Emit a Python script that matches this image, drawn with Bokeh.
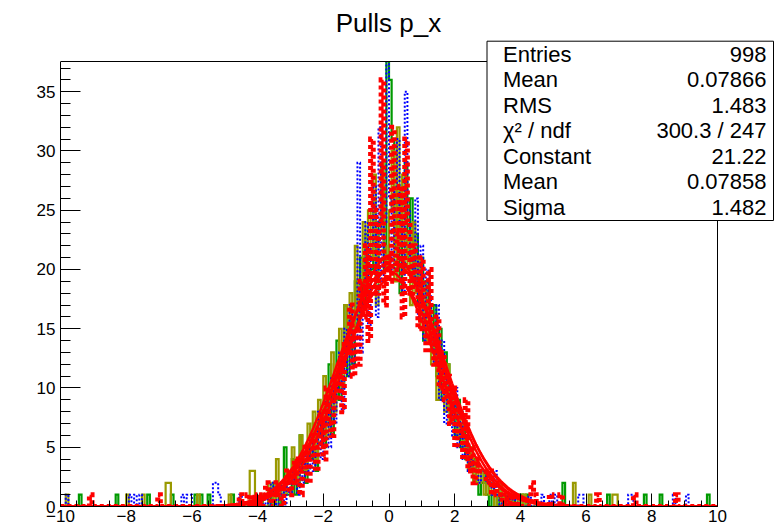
import numpy as np
from bokeh.plotting import figure
from bokeh.models import Range1d, SingleIntervalTicker, Label
from bokeh.embed import file_html
from bokeh.resources import INLINE

# ---------------- data ----------------
TITLE = "Pulls p_x"
X_MIN, X_MAX, N_BINS = -10.0, 10.0, 250
CORE_START = -4.0   # first bin of the core arrays below (100 bins of 0.08)

green_core = [0, 1, 0, 0, 1, 0, 2, 1, 0, 1,
              5, 1, 1, 4, 1, 2, 6, 3, 2, 5,
              4, 7, 3, 6, 8, 5, 7, 12, 6, 9,
              14, 9, 13, 17, 11, 16, 12, 19, 15, 21,
              17, 23, 18, 20, 26, 19, 24, 27, 20, 38,
              36, 31, 22, 27, 18, 24, 29, 21, 26, 19,
              23, 17, 21, 14, 19, 16, 13, 17, 11, 15,
              9, 13, 12, 8, 10, 6, 9, 5, 7, 4,
              5, 3, 4, 2, 1, 2, 3, 1, 0, 1,
              1, 0, 2, 0, 1, 0, 0, 1, 0, 0]
olive_core = [0, 1, 0, 0, 2, 1, 0, 4, 1, 2,
              1, 3, 2, 5, 3, 2, 6, 4, 3, 7,
              5, 8, 4, 9, 7, 11, 6, 10, 13, 8,
              12, 15, 10, 17, 13, 18, 14, 22, 16, 19,
              24, 18, 25, 21, 28, 17, 23, 29, 22, 20,
              25, 30, 19, 32, 22, 28, 20, 23, 17, 24,
              18, 21, 15, 19, 14, 17, 12, 15, 9, 13,
              11, 8, 12, 7, 10, 9, 6, 8, 5, 6,
              3, 5, 2, 4, 2, 3, 1, 2, 1, 2,
              0, 1, 2, 0, 1, 0, 1, 0, 0, 1]
blue_core = [0, 1, 0, 1, 0, 2, 1, 0, 1, 2,
             0, 2, 1, 3, 2, 1, 4, 2, 5, 3,
             6, 3, 5, 8, 4, 7, 9, 5, 11, 7,
             10, 13, 8, 15, 11, 17, 12, 14, 29, 13,
             18, 24, 15, 22, 27, 16, 32, 19, 24, 38,
             26, 20, 27, 31, 24, 18, 35, 25, 21, 19,
             26, 16, 22, 14, 20, 18, 15, 12, 17, 9,
             14, 7, 11, 9, 6, 10, 5, 8, 4, 6,
             3, 4, 3, 3, 2, 3, 3, 2, 3, 1,
             3, 1, 0, 1, 1, 0, 1, 0, 1, 0]
red_core = [1, 0, 1, 2, 1, 0, 1, 2, 1, 0,
            2, 3, 1, 2, 4, 2, 1, 3, 5, 2,
            4, 6, 3, 5, 8, 4, 10, 7, 6, 11,
            9, 12, 8, 14, 13, 17, 11, 15, 12, 19,
            16, 22, 14, 31, 25, 18, 24, 36, 17, 21,
            19, 32, 23, 20, 27, 16, 31, 24, 18, 22,
            19, 15, 21, 17, 13, 20, 14, 12, 16, 10,
            13, 9, 11, 7, 10, 5, 8, 6, 4, 9,
            3, 5, 2, 4, 3, 3, 3, 2, 3, 1,
            2, 1, 1, 0, 1, 0, 1, 0, 1, 0]

green_tail_x = [-9.4, -8.3, -7.3, -6.6, -5.9, -5.7, -5.5, -4.8, 4.05, 4.2, 5.35, 6.7, 7.8, 8.3, 9.7]
green_tail_n = [1, 1, 1, 1, 1, 1, 1, 1, 1, 1, 2, 1, 1, 1, 1]
olive_tail_x = [-9.8, -8.0, -7.45, -6.75, -6.65, -5.8, -4.85, -4.2, -4.1, 4.1, 5.6, 6.1, 6.85, 6.95]
olive_tail_n = [1, 1, 1, 2, 2, 1, 1, 3, 3, 1, 2, 1, 1, 1]
blue_tail_x = [-9.8, -7.85, -7.75, -7.55, -6.25, -6.15, -6.05, -5.35, -5.25, -5.15, -4.55,
               4.3, 4.7, 4.9, 5.1, 5.8, 5.9, 7.3, 7.4, 8.7, 9.1]
blue_tail_n = [1, 1, 1, 1, 1, 1, 1, 2, 2, 1, 1, 1, 1, 1, 1, 1, 1, 1, 1, 1, 1]
red_tail_x = [-9.1, -7.0, -4.5, -4.3, -4.1, 4.35, 4.45, 4.9, 5.2, 6.4, 7.5, 8.75]
red_tail_n = [1, 1, 1, 1, 1, 2, 1, 1, 1, 1, 1, 1]

# Gaussian fit parameters (constant, mean, sigma) of the four fits
fit_const = [21.22, 20.4, 19.9, 19.2]
fit_mean = [0.07858, 0.18, -0.05, 0.10]
fit_sigma = [1.482, 1.50, 1.52, 1.58]

stat_names = ["Entries", "Mean", "RMS", "\u03c7\u00b2 / ndf", "Constant", "Mean", "Sigma"]
stat_values = ["998", "0.07866", "1.483", "300.3 / 247", "21.22", "0.07858", "1.482"]

Y_MAX = 37.55
FONT = "Liberation Sans"

# ---------------- geometry ----------------
W, H = 776, 530
BL, BB = 60, 24
AX_RIGHT_PX, AX_TOP_PX = 717, 61          # visible axis box (ROOT frame)
PX_X = (AX_RIGHT_PX - BL) / (X_MAX - X_MIN)
PX_Y = (H - BB - AX_TOP_PX) / Y_MAX
x_end = X_MIN + (W - BL) / PX_X
y_end = (H - BB) / PX_Y


def px2x(px):
    return X_MIN + (px - BL) / PX_X


def py2y(py):
    return (H - BB - py) / PX_Y


bw = (X_MAX - X_MIN) / N_BINS
edges = X_MIN + bw * np.arange(N_BINS + 1)


def build(core, tx, tn):
    c = np.zeros(N_BINS)
    s = int(round((CORE_START - X_MIN) / bw))
    c[s:s + len(core)] = core
    for x, n in zip(tx, tn):
        c[int((x - X_MIN) / bw)] += n
    return c


def step(c):
    xs = np.repeat(edges, 2)
    ys = np.concatenate([[0], np.repeat(c, 2), [0]])
    return xs, ys


p = figure(width=W, height=H, output_backend="svg", toolbar_location=None,
           x_range=Range1d(X_MIN, x_end), y_range=Range1d(0, y_end),
           min_border_left=BL, min_border_right=0, min_border_top=0, min_border_bottom=BB)
p.background_fill_color = "white"
p.border_fill_color = "white"
p.outline_line_color = None
p.grid.visible = False

series = [
    (green_core, green_tail_x, green_tail_n, dict(line_color="#009a00", line_width=2.2)),
    (olive_core, olive_tail_x, olive_tail_n, dict(line_color="#999900", line_width=2.2)),
    (blue_core, blue_tail_x, blue_tail_n, dict(line_color="#0000ff", line_width=2, line_dash="2 2")),
    (red_core, red_tail_x, red_tail_n, dict(line_color="#ff0000", line_width=5, line_dash="4 3")),
]
for core, tx, tn, style in series:
    xs, ys = step(build(core, tx, tn))
    p.line(xs, ys, line_join="miter", **style)

xf = np.linspace(X_MIN, X_MAX, 801)
for a, m, s in zip(fit_const, fit_mean, fit_sigma):
    p.line(xf, a * np.exp(-0.5 * ((xf - m) / s) ** 2), line_color="#ff0000", line_width=2.5)

# mask everything above the ROOT frame (clipping like the original pad)
p.quad(left=[x_end * -2], right=[x_end * 2], bottom=[Y_MAX], top=[y_end * 2],
       fill_color="white", line_color=None)

# frame top and right edges
p.line([X_MIN, X_MAX, X_MAX], [Y_MAX, Y_MAX, 0], line_color="black", line_width=1)

# axes
for ax in (p.xaxis[0], p.yaxis[0]):
    ax.axis_line_color = "black"
    ax.major_tick_line_color = "black"
    ax.minor_tick_line_color = "black"
    ax.major_tick_out = 0
    ax.minor_tick_out = 0
    ax.major_label_text_font = FONT
    ax.major_label_text_font_size = "17px"
    ax.major_label_text_color = "black"
p.xaxis[0].ticker = SingleIntervalTicker(interval=2, num_minor_ticks=4)
p.yaxis[0].ticker = SingleIntervalTicker(interval=5, num_minor_ticks=5)
p.xaxis[0].bounds = (X_MIN, X_MAX)
p.yaxis[0].bounds = (0, Y_MAX)
p.xaxis[0].major_tick_in = 13
p.xaxis[0].minor_tick_in = 6
p.yaxis[0].major_tick_in = 20
p.yaxis[0].minor_tick_in = 10
p.xaxis[0].major_label_standoff = 3
p.yaxis[0].major_label_standoff = 5

# title
p.add_layout(Label(x=px2x(388), y=py2y(22), text=TITLE, text_align="center",
                   text_baseline="middle", text_font=FONT, text_font_size="26px",
                   text_color="black"))

# stats box
p.quad(left=[px2x(486.5)], right=[px2x(773)], top=[py2y(40.7)], bottom=[py2y(220)],
       fill_color="white", line_color="black", line_width=1)
row_py = [53.5, 79, 104.5, 130, 155.5, 181, 206.5]
for name, val, py in zip(stat_names, stat_values, row_py):
    p.add_layout(Label(x=px2x(502.5), y=py2y(py), text=name, text_align="left",
                       text_baseline="middle", text_font=FONT, text_font_size="22px",
                       text_color="black"))
    p.add_layout(Label(x=px2x(766), y=py2y(py), text=val, text_align="right",
                       text_baseline="middle", text_font=FONT, text_font_size="22px",
                       text_color="black"))

open("out.html", "w").write(file_html(p, INLINE))
